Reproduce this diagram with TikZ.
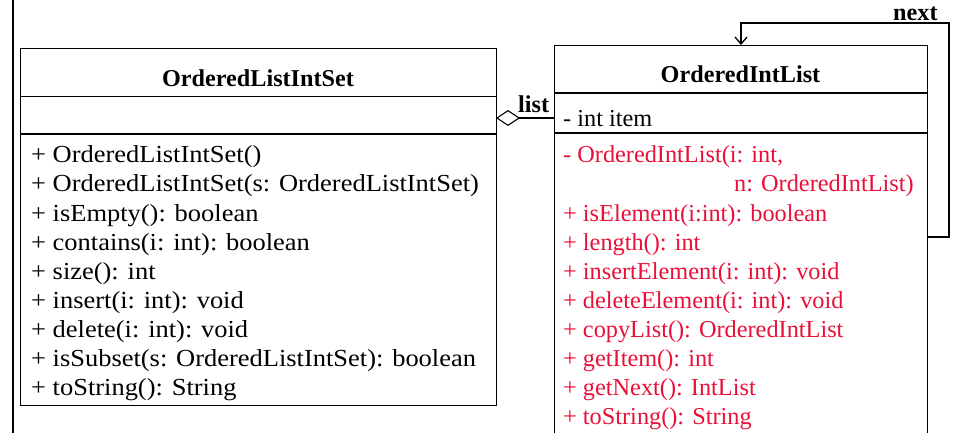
\documentclass[tikz,border=0pt]{standalone}
\usepackage{fontspec}
\setmainfont{Liberation Serif}
\newfontfamily\leftfont{Liberation Serif}[FakeStretch=1.08]
\usetikzlibrary{arrows.meta}
\definecolor{opred}{RGB}{232,16,56}
\begin{document}
\begin{tikzpicture}[x=1pt,y=-1pt,
  box/.style={draw, line width=1.3pt, inner sep=0pt, anchor=north west},
  lt/.style={font=\leftfont\fontsize{24.5}{29}\selectfont, anchor=base west, inner sep=0pt},
  rt/.style={font=\fontsize{24.3}{29}\selectfont, text=opred, anchor=base west, inner sep=0pt},
  ttl/.style={font=\bfseries\fontsize{24.2}{29}\selectfont, anchor=base, inner sep=0pt},
  lbl/.style={font=\bfseries\fontsize{24.2}{29}\selectfont, anchor=base west, inner sep=0pt},
  conn/.style={line width=1.3pt}]
\useasboundingbox (0,0) rectangle (959,433);
\clip (0,0) rectangle (959,433);
% left frame line
\coordinate (ftop) at (13,-2);
\coordinate (fbot) at (13,440);
\draw[conn] (ftop) -- (fbot);
% class OrderedListIntSet
\node[box, minimum width=476pt, minimum height=357pt] (set) at (20,48) {};
\draw[conn] (20,96.5) -- (496,96.5);
\draw[conn] (20,134) -- (496,134);
\node[ttl] (settitle) at (258,87) {OrderedListIntSet};
\node[lt] (s1) at (31,163) {+ OrderedListIntSet()};
\node[lt] (s2) at (31,192) {+ OrderedListIntSet(s: OrderedListIntSet)};
\node[lt] (s3) at (31,221) {+ isEmpty(): boolean};
\node[lt] (s4) at (31,250) {+ contains(i: int): boolean};
\node[lt] (s5) at (31,279) {+ size(): int};
\node[lt] (s6) at (31,308) {+ insert(i: int): void};
\node[lt] (s7) at (31,337) {+ delete(i: int): void};
\node[lt] (s8) at (31,366) {+ isSubset(s: OrderedListIntSet): boolean};
\node[lt] (s9) at (31,395) {+ toString(): String};
% class OrderedIntList
\node[box, minimum width=373pt, minimum height=420pt] (il) at (554,45) {};
\draw[conn] (554,93) -- (927,93);
\draw[conn] (554,133) -- (927,133);
\node[ttl] (iltitle) at (740.5,83) {OrderedIntList};
\node[rt, text=black] (a1) at (563,127) {- int item};
\node[rt] (m1) at (563,163) {- OrderedIntList(i: int,};
\node[rt] (m1b) at (734,192) {n: OrderedIntList)};
\node[rt] (m2) at (563,221) {+ isElement(i:int): boolean};
\node[rt] (m3) at (563,250) {+ length(): int};
\node[rt] (m4) at (563,279) {+ insertElement(i: int): void};
\node[rt] (m5) at (563,308) {+ deleteElement(i: int): void};
\node[rt] (m6) at (563,337) {+ copyList(): OrderedIntList};
\node[rt] (m7) at (563,366) {+ getItem(): int};
\node[rt] (m8) at (563,395) {+ getNext(): IntList};
\node[rt] (m9) at (563,424) {+ toString(): String};
% aggregation "list"
\coordinate (aggL) at (496,118);
\coordinate (aggR) at (554,118);
\draw[conn, {Diamond[open,length=24pt,width=16pt,line width=1.1pt]}-] (aggL) -- (aggR);
\node[lbl] (listlbl) at (518,113) {list};
% self association "next"
\coordinate (nextout) at (927,237);
\coordinate (nextin) at (741,45);
\coordinate (corner) at (949,23);
\draw[conn, -{Straight Barb[length=7pt,width=12pt]}] (nextout) -| (corner) -| (nextin);
\node[lbl] (nextlbl) at (893,21) {next};
\end{tikzpicture}
\end{document}
